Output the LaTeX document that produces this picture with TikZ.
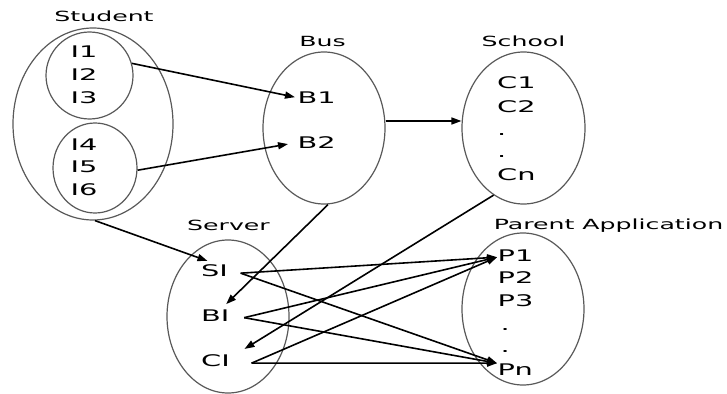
\documentclass[tikz,border=0pt]{standalone}
\usepackage{fontspec}
\setmainfont{DejaVu Sans}
\usetikzlibrary{shapes.geometric,arrows.meta}
\newcommand\wide[1]{\scalebox{1.8}[1]{#1}}
\tikzset{
  ell/.style={draw=black!65, line width=1.2pt, ellipse, inner sep=0pt},
  item/.style={anchor=base west, inner sep=1.5pt, font=\fontsize{16}{16}\selectfont},
  lbl/.style={anchor=base, inner sep=1pt, font=\fontsize{14}{14}\selectfont},
  arr/.style={draw=black, line width=1.6pt, -{Triangle[length=10pt,width=7pt]}}
}
\begin{document}
\begin{tikzpicture}[x=1pt,y=-1pt]
\useasboundingbox (0,0) rectangle (727,393);
% ellipses
\node[ell, minimum width=160pt, minimum height=192pt] (student) at (93,124) {};
\node[ell, minimum width=87pt, minimum height=87pt] (in1) at (89.5,75.5) {};
\node[ell, minimum width=84pt, minimum height=90pt] (in2) at (95,168) {};
\node[ell, minimum width=122pt, minimum height=152pt] (bus) at (324,128) {};
\node[ell, minimum width=123pt, minimum height=152pt] (school) at (523.5,128) {};
\node[ell, minimum width=122pt, minimum height=153pt] (server) at (228,316.5) {};
\node[ell, minimum width=122pt, minimum height=152pt] (parent) at (523,309) {};
% labels
\node[lbl] (lstudent) at (104,22) {\wide{Student}};
\node[lbl] (lbus) at (322.5,47) {\wide{Bus}};
\node[lbl] (lschool) at (523.5,47) {\wide{School}};
\node[lbl] (lserver) at (228.5,230) {\wide{Server}};
\node[lbl] (lparent) at (608.5,229) {\wide{Parent Application}};
% items
\node[item] (i1) at (69,58) {\wide{I1}};
\node[item] (i2) at (69,81) {\wide{I2}};
\node[item] (i3) at (69,103) {\wide{I3}};
\node[item] (i4) at (69,150) {\wide{I4}};
\node[item] (i5) at (69,172) {\wide{I5}};
\node[item] (i6) at (69,195) {\wide{I6}};
\node[item] (b1) at (296,103) {\wide{B1}};
\node[item] (b2) at (296,148) {\wide{B2}};
\node[item] (c1) at (495.5,89) {\wide{C1}};
\node[item] (c2) at (495.5,112) {\wide{C2}};
\node[item] (cd1) at (495.5,135) {\wide{.}};
\node[item] (cd2) at (495.5,157) {\wide{.}};
\node[item] (cn) at (495.5,180) {\wide{Cn}};
\node[item] (si) at (199.5,276) {\wide{SI}};
\node[item] (bi) at (199.5,321) {\wide{BI}};
\node[item] (ci) at (199.5,366) {\wide{CI}};
\node[item] (p1) at (496,261) {\wide{P1}};
\node[item] (p2) at (496,283) {\wide{P2}};
\node[item] (p3) at (496,306) {\wide{P3}};
\node[item] (pd1) at (499,330) {\wide{.}};
\node[item] (pd2) at (499,352) {\wide{.}};
\node[item] (pn) at (496,375) {\wide{Pn}};
% connector end points
\coordinate (b1in) at ([shift={(-1,0)}]b1.west);
\coordinate (b2in) at ([shift={(-8,2)}]b2.west);
\coordinate (siin) at ([shift={(8,-1.5)}]si.north west);
\coordinate (biin) at ([shift={(-5,-3.5)}]bi.north east);
\coordinate (ciin) at ([shift={(13,-3.5)}]ci.north east);
\coordinate (siout) at ([shift={(11,3)}]si.east);
\coordinate (biout) at ([shift={(13,2.5)}]bi.east);
\coordinate (ciout) at ([shift={(20,3)}]ci.east);
\coordinate (p1in) at ([shift={(1,2)}]p1.west);
\coordinate (pnin) at ([shift={(1,-6)}]pn.west);
% connectors
\draw[arr] (in1.16) -- (b1in);
\draw[arr] (in2.-3) -- (b2in);
\draw[arr] ([yshift=7pt]bus.east) -- ([yshift=7pt]school.west);
\draw[arr] ([xshift=2pt]student.south) -- (siin);
\draw[arr] ([xshift=4pt]bus.south) -- (biin);
\draw[arr] (school.-114) -- (ciin);
\draw[arr] (siout) -- (p1in);
\draw[arr] (siout) -- (pnin);
\draw[arr] (biout) -- (p1in);
\draw[arr] (biout) -- (pnin);
\draw[arr] (ciout) -- (p1in);
\draw[arr] (ciout) -- (pnin);
\end{tikzpicture}
\end{document}
